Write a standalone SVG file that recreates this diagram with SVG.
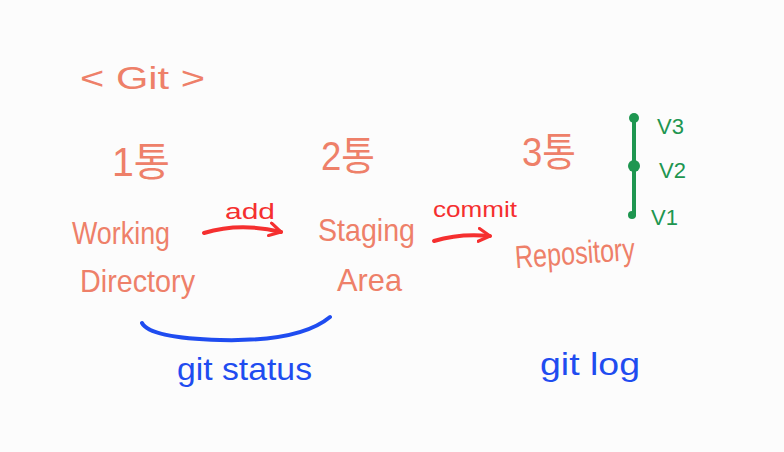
<svg xmlns="http://www.w3.org/2000/svg" width="784" height="452" viewBox="0 0 784 452">
<defs>
<style>
.t{font-family:"Liberation Sans","Noto Sans CJK KR",sans-serif;}
.s{fill:#EE8069;}
.r{fill:#F52F2F;}
.b{fill:#1F4CF0;}
.g{fill:#1E9650;}
.big{font-size:40px;}
.mid{font-size:32px;}
.sm{font-size:22px;}
</style>
<marker id="ah" viewBox="0 0 10 10" refX="8" refY="5" markerWidth="4" markerHeight="4" orient="auto" markerUnits="strokeWidth">
<path d="M1,1 L8,5 L1,9" fill="none" stroke="#F52F2F" stroke-width="2" stroke-linecap="round" stroke-linejoin="round"/>
</marker>
</defs>
<rect width="784" height="452" fill="#FCFCFC"/>
<g id="title"><text class="t s mid" x="80" y="89" textLength="125" lengthAdjust="spacingAndGlyphs">&lt; Git &gt;</text></g>
<g id="step1"><text class="t s big" x="112" y="176" textLength="58" lengthAdjust="spacingAndGlyphs">1통</text></g>
<g id="step2"><text class="t s big" x="321" y="170" textLength="54" lengthAdjust="spacingAndGlyphs">2통</text></g>
<g id="step3"><text class="t s big" x="522" y="166" textLength="54" lengthAdjust="spacingAndGlyphs">3통</text></g>
<g id="working-directory">
<text class="t s mid" x="72" y="244" textLength="98" lengthAdjust="spacingAndGlyphs">Working</text>
<text class="t s mid" x="80" y="292" textLength="115" lengthAdjust="spacingAndGlyphs">Directory</text>
</g>
<g id="staging-area">
<text class="t s mid" x="318" y="241" textLength="97" lengthAdjust="spacingAndGlyphs">Staging</text>
<text class="t s mid" x="337" y="291" textLength="65" lengthAdjust="spacingAndGlyphs">Area</text>
</g>
<g id="repository"><text class="t s mid" x="515" y="264" transform="rotate(-4 575 255)" textLength="120" lengthAdjust="spacingAndGlyphs">Repository</text></g>
<g id="versions">
<path d="M634,118 L634,215" stroke="#1E9650" stroke-width="4" fill="none" stroke-linecap="round"/>
<circle cx="634" cy="118" r="5" class="g"/>
<circle cx="634" cy="166" r="6" class="g"/>
<circle cx="632" cy="215" r="4" class="g"/>
<text class="t g sm" x="657" y="134">V3</text>
<text class="t g sm" x="659" y="178">V2</text>
<text class="t g sm" x="651" y="225">V1</text>
</g>
<g id="connectors">
<path d="M204,233 Q240,222 281,232" stroke="#F52F2F" stroke-width="4" fill="none" stroke-linecap="round" marker-end="url(#ah)"/>
<path d="M434,241 Q460,233 490,236" stroke="#F52F2F" stroke-width="4" fill="none" stroke-linecap="round" marker-end="url(#ah)"/>
<path d="M142,323 Q150,338 220,340 Q300,342 330,317" stroke="#1F4CF0" stroke-width="4" fill="none" stroke-linecap="round"/>
</g>
<g id="labels">
<text class="t r sm" x="225" y="219" textLength="50" lengthAdjust="spacingAndGlyphs">add</text>
<text class="t r sm" x="433" y="217" textLength="84" lengthAdjust="spacingAndGlyphs">commit</text>
<text class="t b mid" x="177" y="380" textLength="135" lengthAdjust="spacingAndGlyphs">git status</text>
<text class="t b mid" x="540" y="375" textLength="100" lengthAdjust="spacingAndGlyphs">git log</text>
</g>
</svg>
